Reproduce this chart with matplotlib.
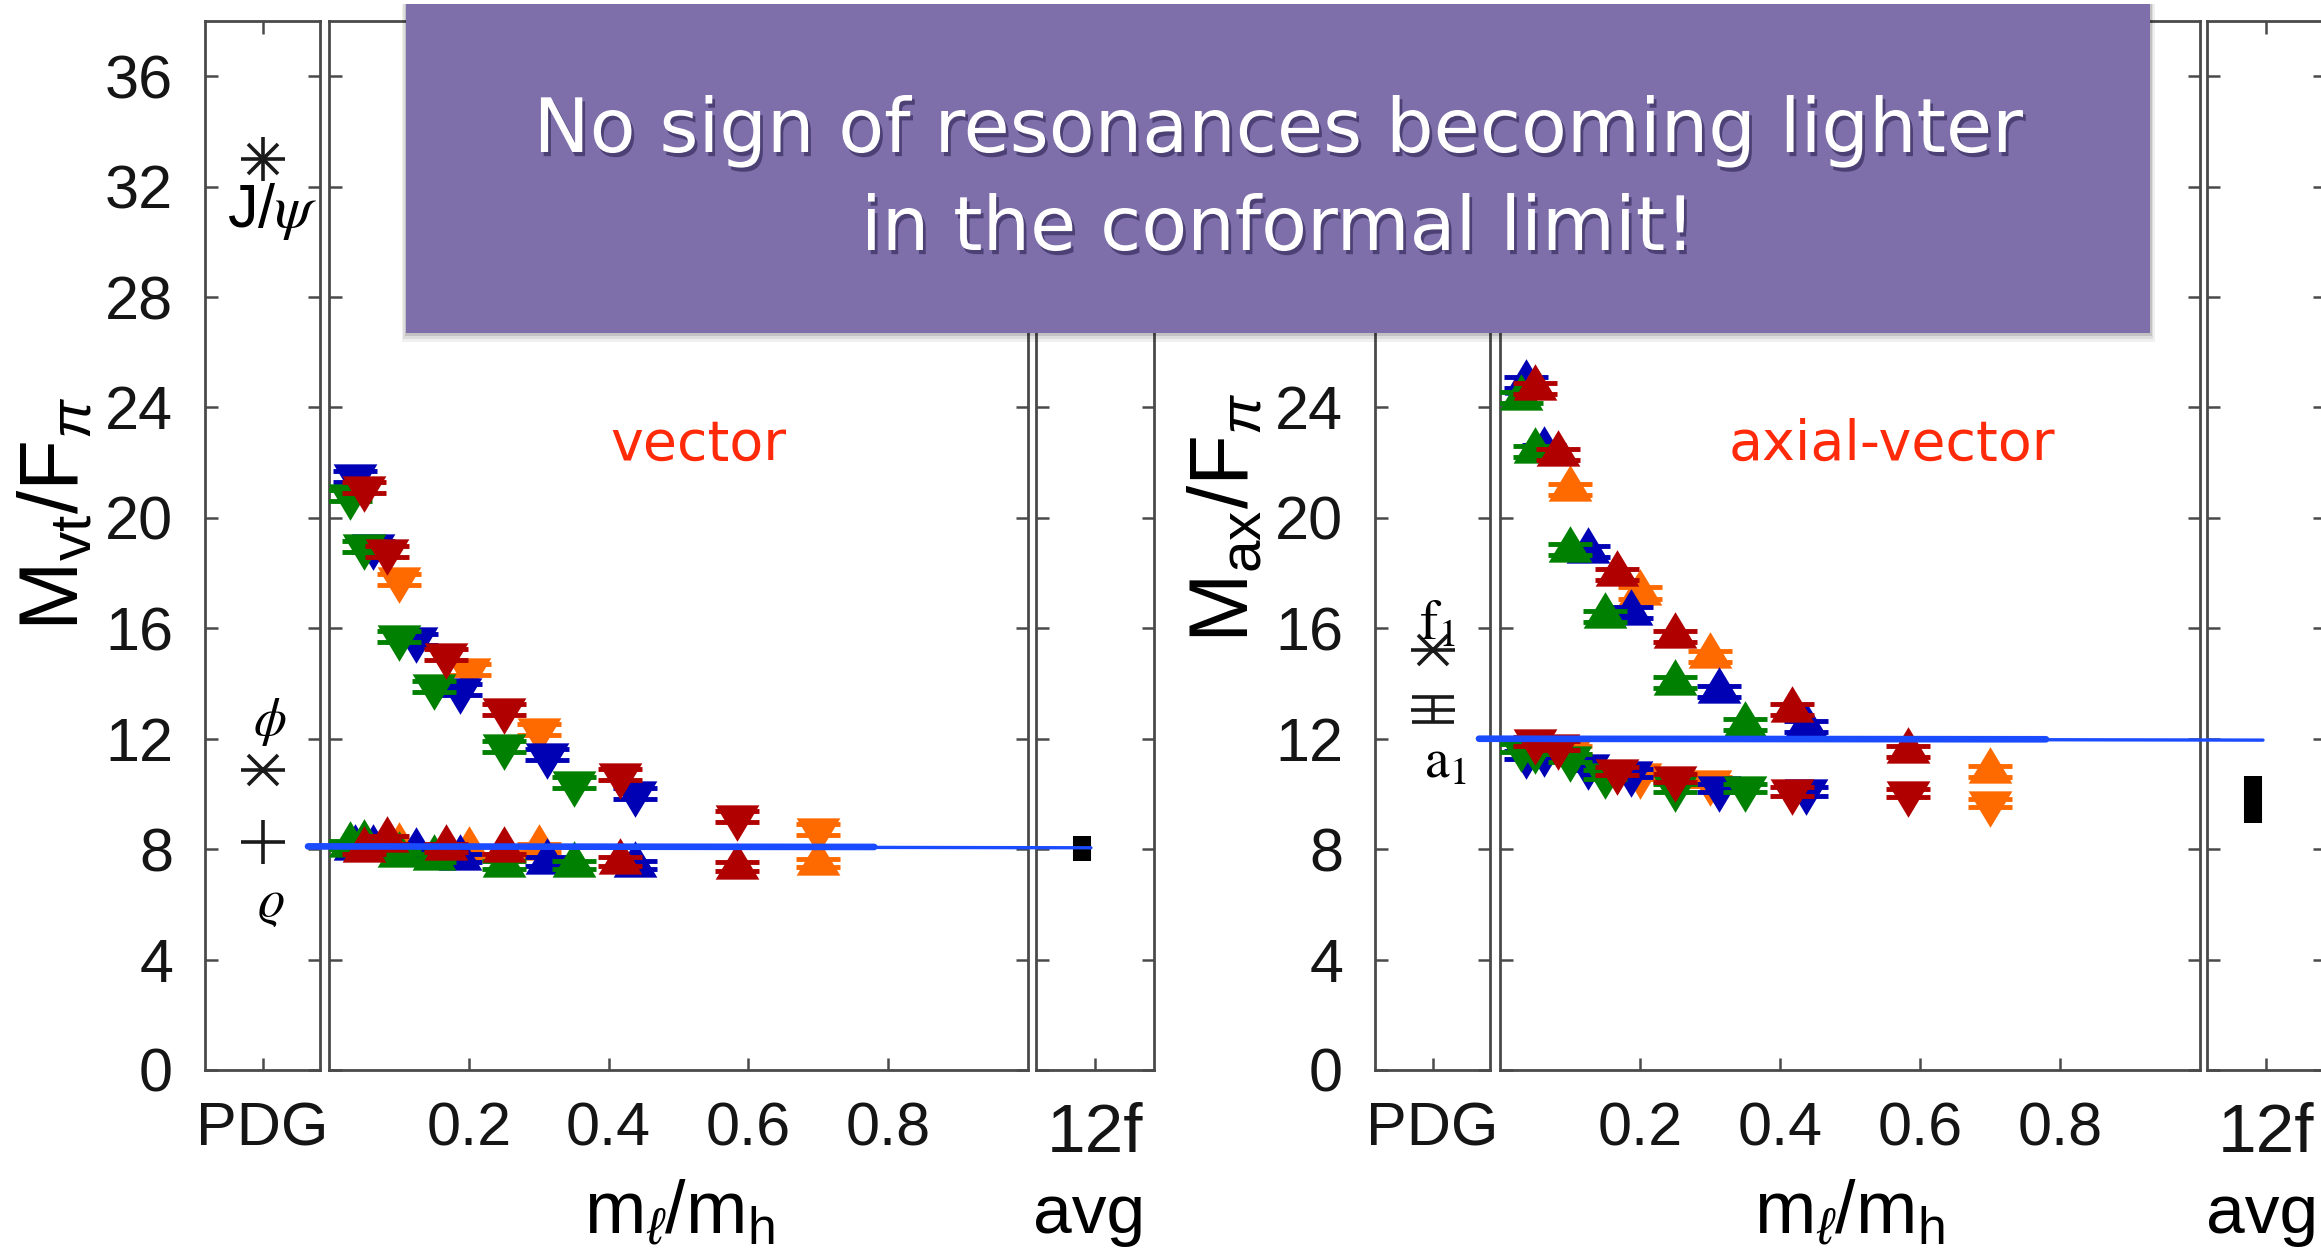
import matplotlib
matplotlib.use('Agg')
import matplotlib.pyplot as plt
from matplotlib.path import Path
from matplotlib.patches import Rectangle
import matplotlib.patheffects as pe

plt.rcParams['font.family'] = ['Liberation Sans', 'DejaVu Sans']
plt.rcParams['mathtext.fontset'] = 'custom'
plt.rcParams['mathtext.rm'] = 'Liberation Sans'
plt.rcParams['mathtext.it'] = 'Liberation Sans:italic'
plt.rcParams['mathtext.bf'] = 'Liberation Sans:bold'

W, H = 2321, 1248
DPI = 100

# m_l/m_h of the ensembles, one list per heavy mass
x_red = [0.05, 0.0833, 0.1667, 0.25, 0.4167, 0.5833]
x_green = [0.03, 0.05, 0.10, 0.15, 0.25, 0.35]
x_blue = [0.0375, 0.0625, 0.125, 0.1875, 0.3125, 0.4375]
x_orange = [0.10, 0.20, 0.30, 0.70]

# vector channel, M/F_pi (upper branch drawn with down triangles)
vt_hi_red = [21.1, 18.8, 15.05, 13.05, 10.7, 9.18]
vt_hi_green = [20.8, 18.97, 15.7, 13.9, 11.72, 10.4]
vt_hi_blue = [21.5, 18.97, 15.6, 13.78, 11.42, 10.03]
vt_hi_orange = [17.77, 14.5, 12.33, 8.7]
vt_lo_red = [7.98, 8.34, 8.04, 7.98, 7.55, 7.37]
vt_lo_green = [8.16, 8.22, 7.8, 7.68, 7.43, 7.43]
vt_lo_blue = [8.04, 8.04, 7.92, 7.68, 7.55, 7.43]
vt_lo_orange = [8.1, 7.98, 8.04, 7.49]

# axial-vector channel (upper branch drawn with up triangles)
ax_hi_red = [24.7, 22.3, 17.95, 15.71, 13.05, 11.54]
ax_hi_green = [24.35, 22.42, 18.85, 16.44, 14.02, 12.51]
ax_hi_blue = [24.9, 22.45, 18.79, 16.56, 13.72, 12.45]
ax_hi_orange = [21.03, 17.28, 14.99, 10.82]
ax_lo_red = [11.9, 11.75, 10.82, 10.58, 10.09, 10.03]
ax_lo_green = [11.66, 11.6, 11.3, 10.7, 10.21, 10.21]
ax_lo_blue = [11.42, 11.5, 11.0, 10.76, 10.21, 10.09]
ax_lo_orange = [11.6, 10.7, 10.45, 9.67]

err_hi = 0.2
err_lo = 0.15

# PDG values
pdg_vt = {'rho': 8.27, 'phi': 10.88, 'jpsi': 33.0}
pdg_ax = {'a1': 13.05, 'a1_err': 0.45, 'f1': 15.23}

# 12-flavor averages
avg_vt, avg_vt_err = 8.03, 0.45
avg_ax, avg_ax_err = 9.8, 0.85

yticks = [0, 4, 8, 12, 16, 20, 24, 28, 32, 36]
ytick_labels = [str(v) for v in yticks]
xticks_main = [0.2, 0.4, 0.6, 0.8]

RED = '#b00000'
GREEN = '#008000'
BLUE = '#0000b4'
ORANGE = '#ff6a00'
SPINE = '#4a4a4a'
PEN = '#1a4bff'

# triangles centred on their centroid, like gnuplot draws them
TRI_DN = Path([(0, -1), (-0.9, 0.5), (0.9, 0.5), (0, -1)], closed=True)
TRI_UP = Path([(0, 1), (-0.9, -0.5), (0.9, -0.5), (0, 1)], closed=True)

fig = plt.figure(figsize=(W / DPI, H / DPI), dpi=DPI)
fig.patch.set_facecolor('white')

TOP, BOT = 21, 1070


def add_panel(x0, x1, z=1):
    ax = fig.add_axes([x0 / W, 1 - BOT / H, (x1 - x0) / W, (BOT - TOP) / H])
    ax.set_zorder(z)
    ax.set_facecolor('none')
    ax.set_xlim(0, 1)
    ax.set_ylim(0, 38)
    ax.set_yticks(yticks)
    ax.tick_params(axis='both', direction='in', top=True, right=True,
                   length=9, width=1.8, color=SPINE, pad=23, labelsize=44,
                   labelcolor='#151515')
    for s in ax.spines.values():
        s.set_color(SPINE)
        s.set_linewidth(2.0)
    return ax


def draw_set(ax, xs, ys, err, color, marker, z):
    ax.errorbar(xs, ys, yerr=err, fmt='none', ecolor=color, elinewidth=2.5,
                capsize=16, capthick=3.5, zorder=z)
    ax.plot(xs, ys, ls='none', marker=marker, ms=35, color=color, mew=0, zorder=z)


def star(ax, y, plus=True):
    # asterisk style PDG point
    ax.plot(0.5, y, marker='+' if plus else '_', ms=31, mew=2.6, color='#1a1a1a')
    ax.plot(0.5, y, marker='x', ms=21, mew=2.6, color='#1a1a1a')


panels = []
for (p0, p1), (m0, m1), (a0, a1) in [((205, 320), (329, 1028), (1036, 1154)),
                                     ((1375, 1490), (1500, 2200), (2207, 2325))]:
    pdg = add_panel(p0, p1, 1)
    pdg.set_xticks([0.5])
    pdg.set_xticklabels(['PDG'])
    main = add_panel(m0, m1, 3)
    main.set_xticks(xticks_main)
    main.set_xticklabels(['0.2', '0.4', '0.6', '0.8'])
    main.tick_params(labelleft=False)
    avg = add_panel(a0, a1, 2)
    avg.set_xticks([0.5])
    avg.set_xticklabels(['12f'])
    avg.tick_params(labelleft=False, labelsize=50)
    panels.append((pdg, main, avg))

(pdg_l, main_l, avg_l), (pdg_r, main_r, avg_r) = panels
pdg_l.set_yticklabels(ytick_labels)
# the upper labels of the right panel sit under the banner
pdg_r.set_yticklabels([s if v <= 24 else '' for v, s in zip(yticks, ytick_labels)])

# vector
draw_set(main_l, x_orange, vt_hi_orange, err_hi, ORANGE, TRI_DN, 2)
draw_set(main_l, x_orange, vt_lo_orange, err_lo, ORANGE, TRI_UP, 2)
draw_set(main_l, x_blue, vt_hi_blue, err_hi, BLUE, TRI_DN, 3)
draw_set(main_l, x_blue, vt_lo_blue, err_lo, BLUE, TRI_UP, 3)
draw_set(main_l, x_green, vt_hi_green, err_hi, GREEN, TRI_DN, 4)
draw_set(main_l, x_green, vt_lo_green, err_lo, GREEN, TRI_UP, 4)
draw_set(main_l, x_red, vt_hi_red, err_hi, RED, TRI_DN, 5)
draw_set(main_l, x_red, vt_lo_red, err_lo, RED, TRI_UP, 5)

# axial-vector
draw_set(main_r, x_orange, ax_hi_orange, err_hi, ORANGE, TRI_UP, 2)
draw_set(main_r, x_orange, ax_lo_orange, err_lo, ORANGE, TRI_DN, 2)
draw_set(main_r, x_blue, ax_hi_blue, err_hi, BLUE, TRI_UP, 3)
draw_set(main_r, x_blue, ax_lo_blue, err_lo, BLUE, TRI_DN, 3)
draw_set(main_r, x_green, ax_hi_green, err_hi, GREEN, TRI_UP, 4)
draw_set(main_r, x_green, ax_lo_green, err_lo, GREEN, TRI_DN, 4)
draw_set(main_r, x_red, ax_hi_red, err_hi, RED, TRI_UP, 5)
draw_set(main_r, x_red, ax_lo_red, err_lo, RED, TRI_DN, 5)

# PDG states
star(pdg_l, pdg_vt['jpsi'], plus=True)
star(pdg_l, pdg_vt['phi'], plus=False)
pdg_l.plot(0.5, pdg_vt['rho'], marker='+', ms=31, mew=2.6, color='#1a1a1a')
pdg_l.text(0.58, 31.1, r'J/$\psi$', math_fontfamily='stix', fontsize=44,
           ha='center', va='center')
pdg_l.text(0.56, 12.6, r'$\phi$', math_fontfamily='stix', fontsize=38,
           ha='center', va='center')
pdg_l.text(0.57, 6.0, r'$\varrho$', math_fontfamily='stix', fontsize=38,
           ha='center', va='center')

star(pdg_r, pdg_ax['f1'], plus=False)
pdg_r.errorbar([0.5], [pdg_ax['a1']], yerr=pdg_ax['a1_err'], fmt='_', ms=31, mew=2.6,
               color='#1a1a1a', elinewidth=2.6, capsize=15, capthick=2.6)
pdg_r.text(0.54, 16.1, r'$\mathrm{f}_1$', math_fontfamily='stix', fontsize=40,
           ha='center', va='center')
pdg_r.text(0.61, 11.1, r'$\mathrm{a}_1$', math_fontfamily='stix', fontsize=40,
           ha='center', va='center')

# 12f averages
avg_l.plot([0.39, 0.39], [avg_vt - avg_vt_err, avg_vt + avg_vt_err], color='black',
           lw=13, solid_capstyle='butt')
avg_r.plot([0.39, 0.39], [avg_ax - avg_ax_err, avg_ax + avg_ax_err], color='black',
           lw=13, solid_capstyle='butt')

# hand drawn level lines
for ax, lev in [(main_l, 8.1), (main_r, 12.0)]:
    ax.plot([-0.03, 1.09], [lev, lev - 0.05], color=PEN, lw=2.4, clip_on=False,
            zorder=20, solid_capstyle='round')
    ax.plot([-0.03, 0.78], [lev, lev - 0.02], color=PEN, lw=4.8, clip_on=False,
            zorder=20, solid_capstyle='round')

# channel names
main_l.text(0.528, 22.1, 'vector', color='#ff2a0a', fontsize=40, family='DejaVu Sans',
            ha='center', va='baseline', zorder=21)
main_r.text(0.56, 22.1, 'axial-vector', color='#ff2a0a', fontsize=40,
            family='DejaVu Sans', ha='center', va='baseline', zorder=21)

# axis labels
fig.text(56 / W, 1 - 514 / H, r'$\mathrm{M}_{\mathrm{vt}}/\mathrm{F}_{\pi}$', rotation=90,
         ha='center', va='center', fontsize=60)
fig.text(1226 / W, 1 - 518 / H, r'$\mathrm{M}_{\mathrm{ax}}/\mathrm{F}_{\pi}$', rotation=90,
         ha='center', va='center', fontsize=60)
for cx in (679, 1849):
    fig.text(cx / W, 1 - 1233 / H, r'$\mathrm{m}_{\ell}/\mathrm{m}_{\mathrm{h}}$',
             ha='center', va='baseline', fontsize=53)
for cx in (1089, 2262):
    fig.text(cx / W, 1 - 1233 / H, 'avg', ha='center', va='baseline', fontsize=50)

# purple banner
bx0, bx1, by0, by1 = 406, 2150, 4, 333
for k, a in [(9, 0.06), (6, 0.08), (3, 0.12)]:
    fig.add_artist(Rectangle(((bx0 - k / 2) / W, 1 - (by1 + k) / H),
                             (bx1 - bx0 + k) / W, (by1 - by0 + k) / H,
                             transform=fig.transFigure, fc='black', ec='none',
                             alpha=a, zorder=9))
fig.add_artist(Rectangle((bx0 / W, 1 - by1 / H), (bx1 - bx0) / W, (by1 - by0) / H,
                         transform=fig.transFigure, fc='#7e6fab', ec='none', zorder=10))
shadow = [pe.withSimplePatchShadow(offset=(2, -3), shadow_rgbFace='#2b2150', alpha=0.6)]
fig.text(1278 / W, 1 - 152 / H, 'No sign of resonances becoming lighter', color='white',
         family='DejaVu Sans', fontsize=54, ha='center', va='baseline', zorder=11,
         path_effects=shadow)
fig.text(1278 / W, 1 - 250 / H, 'in the conformal limit!', color='white',
         family='DejaVu Sans', fontsize=54, ha='center', va='baseline', zorder=11,
         path_effects=shadow)

fig.savefig('out.png', dpi=DPI)
